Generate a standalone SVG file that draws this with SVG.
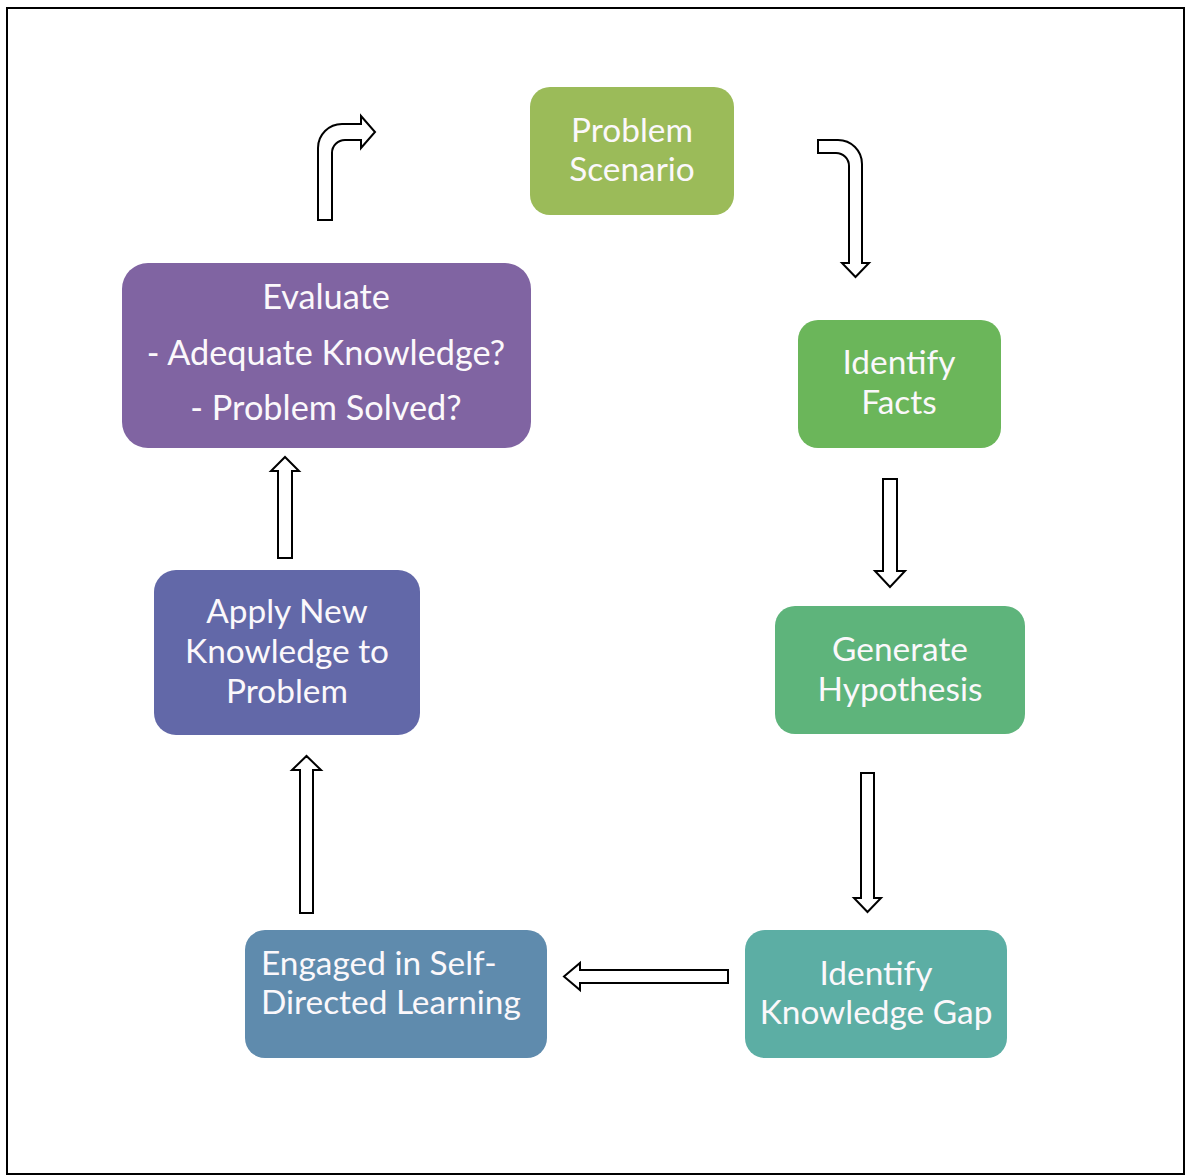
<svg xmlns="http://www.w3.org/2000/svg" width="1186" height="1176" viewBox="0 0 1186 1176">
  <style>
    .box { stroke: none; }
    .lbl { font-family: Lato, "Open Sans", "Liberation Sans", sans-serif; font-size: 33.4px; fill: #FBF8FB; }
    .big { font-size: 34.3px; }
    .mid { text-anchor: middle; }
    .arrow { fill: #FFFFFF; stroke: #000000; stroke-width: 2; stroke-linejoin: miter; }
  </style>

  <!-- page background and frame -->
  <rect x="0" y="0" width="1186" height="1176" fill="#FFFFFF"/>
  <rect x="7" y="8" width="1177" height="1166" fill="none" stroke="#000000" stroke-width="2"/>

  <!-- cycle steps -->
  <g id="problem-scenario">
    <rect class="box" x="530" y="87" width="204" height="128" rx="20" fill="#9BBB59"/>
    <text class="lbl mid" x="632" y="142">Problem</text>
    <text class="lbl mid" x="632" y="181">Scenario</text>
  </g>

  <g id="identify-facts">
    <rect class="box" x="798" y="320" width="203" height="128" rx="20" fill="#6BB65A"/>
    <text class="lbl mid" x="899" y="374">Identify</text>
    <text class="lbl mid" x="899" y="414">Facts</text>
  </g>

  <g id="generate-hypothesis">
    <rect class="box" x="775" y="606" width="250" height="128" rx="20" fill="#5EB47B"/>
    <text class="lbl mid" x="900" y="661">Generate</text>
    <text class="lbl mid" x="900" y="701">Hypothesis</text>
  </g>

  <g id="identify-knowledge-gap">
    <rect class="box" x="745" y="930" width="262" height="128" rx="20" fill="#5CAEA4"/>
    <text class="lbl mid" x="876" y="985">Identify</text>
    <text class="lbl mid" x="876" y="1024">Knowledge Gap</text>
  </g>

  <g id="self-directed-learning">
    <rect class="box" x="245" y="930" width="302" height="128" rx="20" fill="#5F8BAD"/>
    <text class="lbl" x="261" y="975">Engaged in Self-</text>
    <text class="lbl" x="261" y="1014">Directed Learning</text>
  </g>

  <g id="apply-knowledge">
    <rect class="box" x="154" y="570" width="266" height="165" rx="22" fill="#6268A8"/>
    <text class="lbl mid" x="287" y="623">Apply New</text>
    <text class="lbl mid" x="287" y="663">Knowledge to</text>
    <text class="lbl mid" x="287" y="703">Problem</text>
  </g>

  <g id="evaluate">
    <rect class="box" x="122" y="263" width="409" height="185" rx="26" fill="#8064A2"/>
    <text class="lbl big mid" x="326" y="309">Evaluate</text>
    <text class="lbl big mid" x="326" y="365">- Adequate Knowledge?</text>
    <text class="lbl big mid" x="326" y="420">- Problem Solved?</text>
  </g>

  <!-- hollow block arrows between the steps -->
  <g id="connectors">
    <!-- Evaluate back to Problem Scenario: bent up-and-right -->
    <path class="arrow" d="M318,220 L318,148 A24,24 0 0 1 342,124 L361,124 L361,116 L375,132 L361,148 L361,140 L345,140 A13,13 0 0 0 332,153 L332,220 Z"/>
    <!-- Problem Scenario to Identify Facts: bent right-and-down -->
    <path class="arrow" d="M818,140 L838,140 A24,24 0 0 1 862,164 L862,263 L869,263 L855.5,277 L842,263 L849,263 L849,166 A13,13 0 0 0 836,153 L818,153 Z"/>
    <!-- Identify Facts to Generate Hypothesis -->
    <path class="arrow" d="M883,479 L897,479 L897,571 L905,571 L890,587 L875,571 L883,571 Z"/>
    <!-- Generate Hypothesis to Identify Knowledge Gap -->
    <path class="arrow" d="M861,773 L874,773 L874,898 L881,898 L867.5,912 L854,898 L861,898 Z"/>
    <!-- Identify Knowledge Gap to Self-Directed Learning -->
    <path class="arrow" d="M728,970 L728,983 L580,983 L580,990 L564,976.5 L580,963 L580,970 Z"/>
    <!-- Self-Directed Learning to Apply New Knowledge -->
    <path class="arrow" d="M300,913 L300,770 L292,770 L306.5,756 L321,770 L313,770 L313,913 Z"/>
    <!-- Apply New Knowledge to Evaluate -->
    <path class="arrow" d="M278,558 L278,471 L271,471 L285,457 L299,471 L292,471 L292,558 Z"/>
  </g>
</svg>
